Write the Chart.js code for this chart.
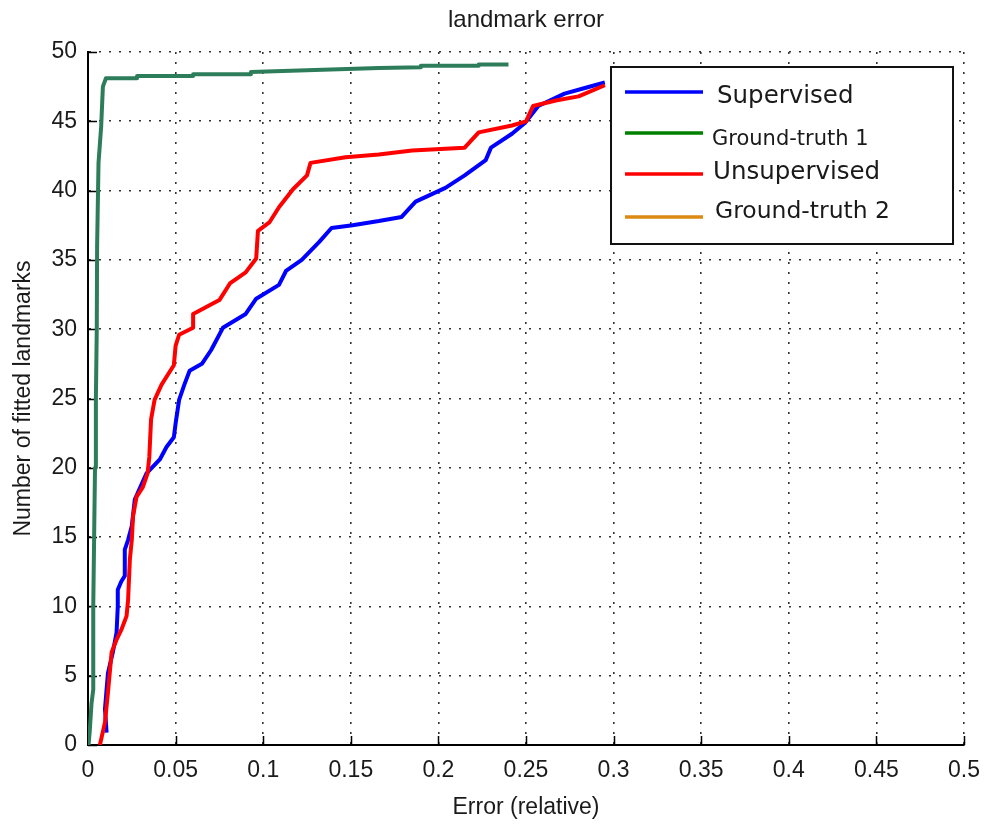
<!DOCTYPE html>
<html>
<head>
<meta charset="utf-8">
<title>landmark error</title>
<script src="https://cdn.jsdelivr.net/npm/chart.js@4.4.1/dist/chart.umd.min.js"></script>
<style>
html, body { margin: 0; padding: 0; background: #ffffff; }
#wrap { width: 992px; height: 825px; }
</style>
</head>
<body>
<div id="wrap"><canvas id="myChart" width="992" height="825"></canvas></div>
<script>
const FONT = '"Liberation Sans", Arial, sans-serif';
const LEGEND_FONT = '"DejaVu Sans", sans-serif';

// Supervised (blue)
const supervisedX = [0.0106, 0.0097, 0.0114, 0.0142, 0.0163, 0.017, 0.017, 0.019, 0.021, 0.021, 0.0229, 0.025, 0.0267,
    0.0334, 0.041, 0.0448, 0.049, 0.050, 0.052, 0.055, 0.058, 0.065, 0.0703, 0.077, 0.090, 0.096, 0.109, 0.113, 0.122,
    0.132, 0.139, 0.151, 0.166, 0.179, 0.187, 0.204, 0.215, 0.227, 0.230, 0.242, 0.2495, 0.257, 0.272, 0.2836, 0.295];
const supervisedY = [0.9, 2.6, 5.2, 6.7, 8.1, 10, 11.2, 11.8, 12.2, 14.1, 14.8, 15.8, 17.7,
    19.6, 20.6, 21.5, 22.2, 23.2, 24.9, 26, 27, 27.5, 28.5, 30.1, 31.1, 32.2, 33.2, 34.2, 35,
    36.3, 37.3, 37.5, 37.8, 38.1, 39.2, 40.2, 41.1, 42.2, 43.1, 44.1, 44.9, 46.1, 47, 47.4, 47.8];

// Ground-truth 1 (green)
const gt1X = [0.0003, 0.001, 0.002, 0.003, 0.003, 0.0035, 0.004, 0.0045, 0.005, 0.0052, 0.006, 0.0075, 0.0085, 0.0102,
    0.028, 0.028, 0.06, 0.06, 0.093, 0.093, 0.166, 0.19, 0.19, 0.223, 0.223, 0.24];
const gt1Y = [0, 1, 3, 4, 10, 15, 20, 25, 30, 36, 42, 44.6, 47.5, 48.1,
    48.1, 48.27, 48.27, 48.4, 48.4, 48.56, 48.85, 48.9, 49.0, 49.0, 49.1, 49.1];

// Unsupervised (red)
const unsupervisedX = [0.0068, 0.0097, 0.0114, 0.0135, 0.0163, 0.019, 0.022, 0.0229, 0.0239, 0.025, 0.0257, 0.0277,
    0.0313, 0.034, 0.035, 0.036, 0.038, 0.042, 0.047, 0.049, 0.050, 0.052, 0.06, 0.06, 0.075, 0.081, 0.090, 0.096,
    0.097, 0.1035, 0.109, 0.117, 0.125, 0.127, 0.147, 0.166, 0.185, 0.215, 0.223, 0.242, 0.250, 0.254, 0.267, 0.28, 0.295];
const unsupervisedY = [0, 1.65, 3.8, 6.7, 7.6, 8.3, 9.3, 10.5, 13.4, 14.8, 16.5, 17.9,
    18.6, 19.6, 20.8, 23.5, 24.9, 26, 27, 27.4, 28.8, 29.6, 30.1, 31.1, 32.1, 33.3, 34.1, 35.1,
    37.1, 37.7, 38.8, 40.1, 41.1, 42.0, 42.4, 42.6, 42.9, 43.1, 44.2, 44.7, 45.0, 46.1, 46.5, 46.8, 47.6];

// Ground-truth 2 (orange) - nothing visible in the plot
const gt2X = [];
const gt2Y = [];

const legendLabels = ['Supervised', 'Ground-truth 1', 'Unsupervised', 'Ground-truth 2'];
const legendColors = ['#0000ff', '#008000', '#ff0000', '#dd8a12'];
const legendSizes = [24.5, 21, 24.5, 23.5];

function toPoints(xs, ys) {
    return xs.map((x, i) => ({ x: x, y: ys[i] }));
}

// MATLAB style ticks pointing into the plot
const innerTicks = {
    id: 'innerTicks',
    beforeDatasetsDraw(chart) {
        const ctx = chart.ctx, a = chart.chartArea;
        const xs = chart.scales.x, ys = chart.scales.y;
        ctx.save();
        ctx.strokeStyle = '#000';
        ctx.lineWidth = 1.5;
        ctx.beginPath();
        for (const t of xs.ticks) {
            var px = Math.round(xs.getPixelForValue(t.value)) + 0.5;
            ctx.moveTo(px, a.bottom);
            ctx.lineTo(px, a.bottom - 9);
        }
        for (const t of ys.ticks) {
            var py = Math.round(ys.getPixelForValue(t.value)) + 0.5;
            ctx.moveTo(a.left, py);
            ctx.lineTo(a.left + 9, py);
        }
        ctx.stroke();
        ctx.restore();
    }
};

// boxed legend inside the axes, top right
const boxLegend = {
    id: 'boxLegend',
    afterDraw(chart) {
        const ctx = chart.ctx, a = chart.chartArea;
        const left = a.right - 353, top = a.top + 15, w = 342, h = 177;
        ctx.save();
        ctx.fillStyle = '#fff';
        ctx.fillRect(left, top, w, h);
        ctx.strokeStyle = '#111';
        ctx.lineWidth = 2;
        ctx.strokeRect(left, top, w, h);
        const rowY = [top + 25, top + 66, top + 107, top + 150];
        const textY = [top + 30, top + 73, top + 106, top + 145];
        const textX = [left + 106, left + 101, left + 102, left + 104];
        const widths = [138, 157, 168, 175];
        for (var i = 0; i < legendLabels.length; i++) {
            ctx.strokeStyle = legendColors[i];
            ctx.lineWidth = 3.5;
            ctx.beginPath();
            ctx.moveTo(left + 14, rowY[i]);
            ctx.lineTo(left + 92, rowY[i]);
            ctx.stroke();
            ctx.fillStyle = '#1a1a1a';
            ctx.font = legendSizes[i] + 'px ' + LEGEND_FONT;
            ctx.textBaseline = 'middle';
            ctx.fillText(legendLabels[i], textX[i], textY[i], widths[i]);
        }
        ctx.restore();
    }
};

const line = (label, color, xs, ys, order) => ({
    label: label,
    data: toPoints(xs, ys),
    borderColor: color,
    backgroundColor: color,
    borderWidth: 4,
    pointRadius: 0,
    showLine: true,
    fill: false,
    tension: 0,
    borderJoinStyle: 'round',
    order: order
});

const chart = new Chart(document.getElementById('myChart'), {
    type: 'scatter',
    data: {
        datasets: [
            line('Supervised', '#0000ff', supervisedX, supervisedY, 3),
            line('Ground-truth 1', '#2e7d5a', gt1X, gt1Y, 2),
            line('Unsupervised', '#ff0000', unsupervisedX, unsupervisedY, 1),
            line('Ground-truth 2', '#dd8a12', gt2X, gt2Y, 0)
        ]
    },
    options: {
        responsive: false,
        animation: false,
        layout: { padding: { left: 0, right: 24, top: 0, bottom: 0 } },
        plugins: {
            legend: { display: false },
            tooltip: { enabled: false },
            title: {
                display: true,
                text: 'landmark error',
                fullSize: false,
                color: '#1a1a1a',
                font: { family: FONT, size: 24, weight: 'normal', lineHeight: 1.2 },
                padding: { top: 6, bottom: 17.2 }
            }
        },
        scales: {
            x: {
                type: 'linear',
                min: 0,
                max: 0.5,
                ticks: {
                    stepSize: 0.05,
                    padding: 12,
                    color: '#1a1a1a',
                    font: { family: FONT, size: 23 },
                    maxRotation: 0,
                    callback: v => String(+v.toFixed(2))
                },
                grid: { color: '#333', lineWidth: 1.6, drawTicks: false },
                border: { color: '#000', width: 2, dash: [2, 8] },
                title: {
                    display: true,
                    text: 'Error (relative)',
                    color: '#1a1a1a',
                    font: { family: FONT, size: 23, lineHeight: 1.2 },
                    padding: { top: 0, bottom: 4 }
                },
                afterFit: s => { s.height = 80; }
            },
            y: {
                min: 0,
                max: 50,
                ticks: {
                    stepSize: 5,
                    padding: 11,
                    color: '#1a1a1a',
                    font: { family: FONT, size: 23 }
                },
                grid: { color: '#333', lineWidth: 1.6, drawTicks: false },
                border: { color: '#000', width: 2, dash: [2, 8] },
                title: {
                    display: true,
                    text: 'Number of fitted landmarks',
                    color: '#1a1a1a',
                    font: { family: FONT, size: 23, lineHeight: 1.2 },
                    padding: { top: 10, bottom: 0 }
                },
                afterFit: s => { s.width = 88; }
            }
        }
    },
    plugins: [innerTicks, boxLegend]
});
</script>
</body>
</html>
